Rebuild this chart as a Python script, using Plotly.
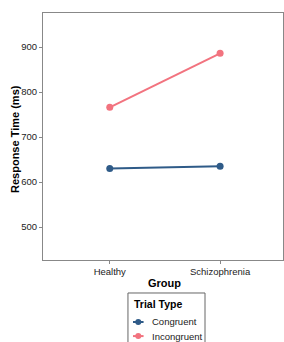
import plotly.graph_objects as go

groups = ["Healthy", "Schizophrenia"]
congruent = [630, 635]
incongruent = [766, 886]
series_names = ["Congruent", "Incongruent"]
colors = ["#2F5B88", "#F2737F"]
legend_title = "Trial Type"
y_title = "Response Time (ms)"
x_title = "Group"

fig = go.Figure()
for name, vals, c in zip(series_names, [congruent, incongruent], colors):
    fig.add_trace(go.Scatter(
        x=groups, y=vals, name=name, mode="lines+markers",
        line=dict(color=c, width=2), marker=dict(color=c, size=7)))

font = "Liberation Sans, Arial, sans-serif"

# Custom compact legend (ggplot style) below the plot, in paper coordinates
shapes = [dict(type="rect", xref="paper", yref="paper", x0=0.354, x1=0.675,
               y0=-0.1336, y1=-0.40, line=dict(color="#666", width=1),
               fillcolor="rgba(0,0,0,0)")]
annotations = [
    dict(xref="paper", yref="paper", x=0.369, y=-0.180, xanchor="left",
         yanchor="middle", showarrow=False, text="<b>%s</b>" % legend_title,
         font=dict(size=10.5, color="black")),
    dict(xref="paper", yref="paper", x=-0.1167, y=0.49, xanchor="center",
         yanchor="middle", showarrow=False, textangle=-90, text="<b>%s</b>" % y_title,
         font=dict(size=11, color="black")),
    dict(xref="paper", yref="paper", x=0.508, y=-0.093, xanchor="center",
         yanchor="middle", showarrow=False, text="<b>%s</b>" % x_title,
         font=dict(size=11, color="black")),
]
item_y = [-0.251, -0.308]
for name, c, yy in zip(series_names, colors, item_y):
    shapes.append(dict(type="line", xref="paper", yref="paper", x0=0.375, x1=0.419,
                       y0=yy, y1=yy, line=dict(color=c, width=2)))
    shapes.append(dict(type="circle", xref="paper", yref="paper", xsizemode="pixel",
                       ysizemode="pixel", xanchor=0.397, yanchor=yy,
                       x0=-3, x1=3, y0=-3, y1=3, fillcolor=c, line=dict(color=c, width=0)))
    annotations.append(dict(xref="paper", yref="paper", x=0.446, y=yy, xanchor="left",
                            yanchor="middle", showarrow=False, text=name,
                            font=dict(size=9.5, color="#222")))

fig.update_layout(
    width=284, height=342,
    margin=dict(l=43, r=1, t=13, b=82, autoexpand=False),
    plot_bgcolor="white", paper_bgcolor="white",
    font=dict(family=font, size=9.5, color="#222"),
    showlegend=False,
    shapes=shapes, annotations=annotations,
    xaxis=dict(
        type="category", range=[-0.605, 1.57],
        showline=True, linecolor="#888", linewidth=1, mirror=True,
        ticks="outside", ticklen=3, tickcolor="#888", showgrid=False,
        tickfont=dict(size=9.5, color="#222")),
    yaxis=dict(
        range=[427, 975.5], tickvals=[500, 600, 700, 800, 900],
        showline=True, linecolor="#888", linewidth=1, mirror=True,
        ticks="outside", ticklen=3, tickcolor="#888", showgrid=False, zeroline=False,
        tickfont=dict(size=9.5, color="#222")),
)
fig.write_html("out.html", config={"displayModeBar": False},
               post_script="document.body.style.margin='0';document.body.style.overflow='hidden';")
